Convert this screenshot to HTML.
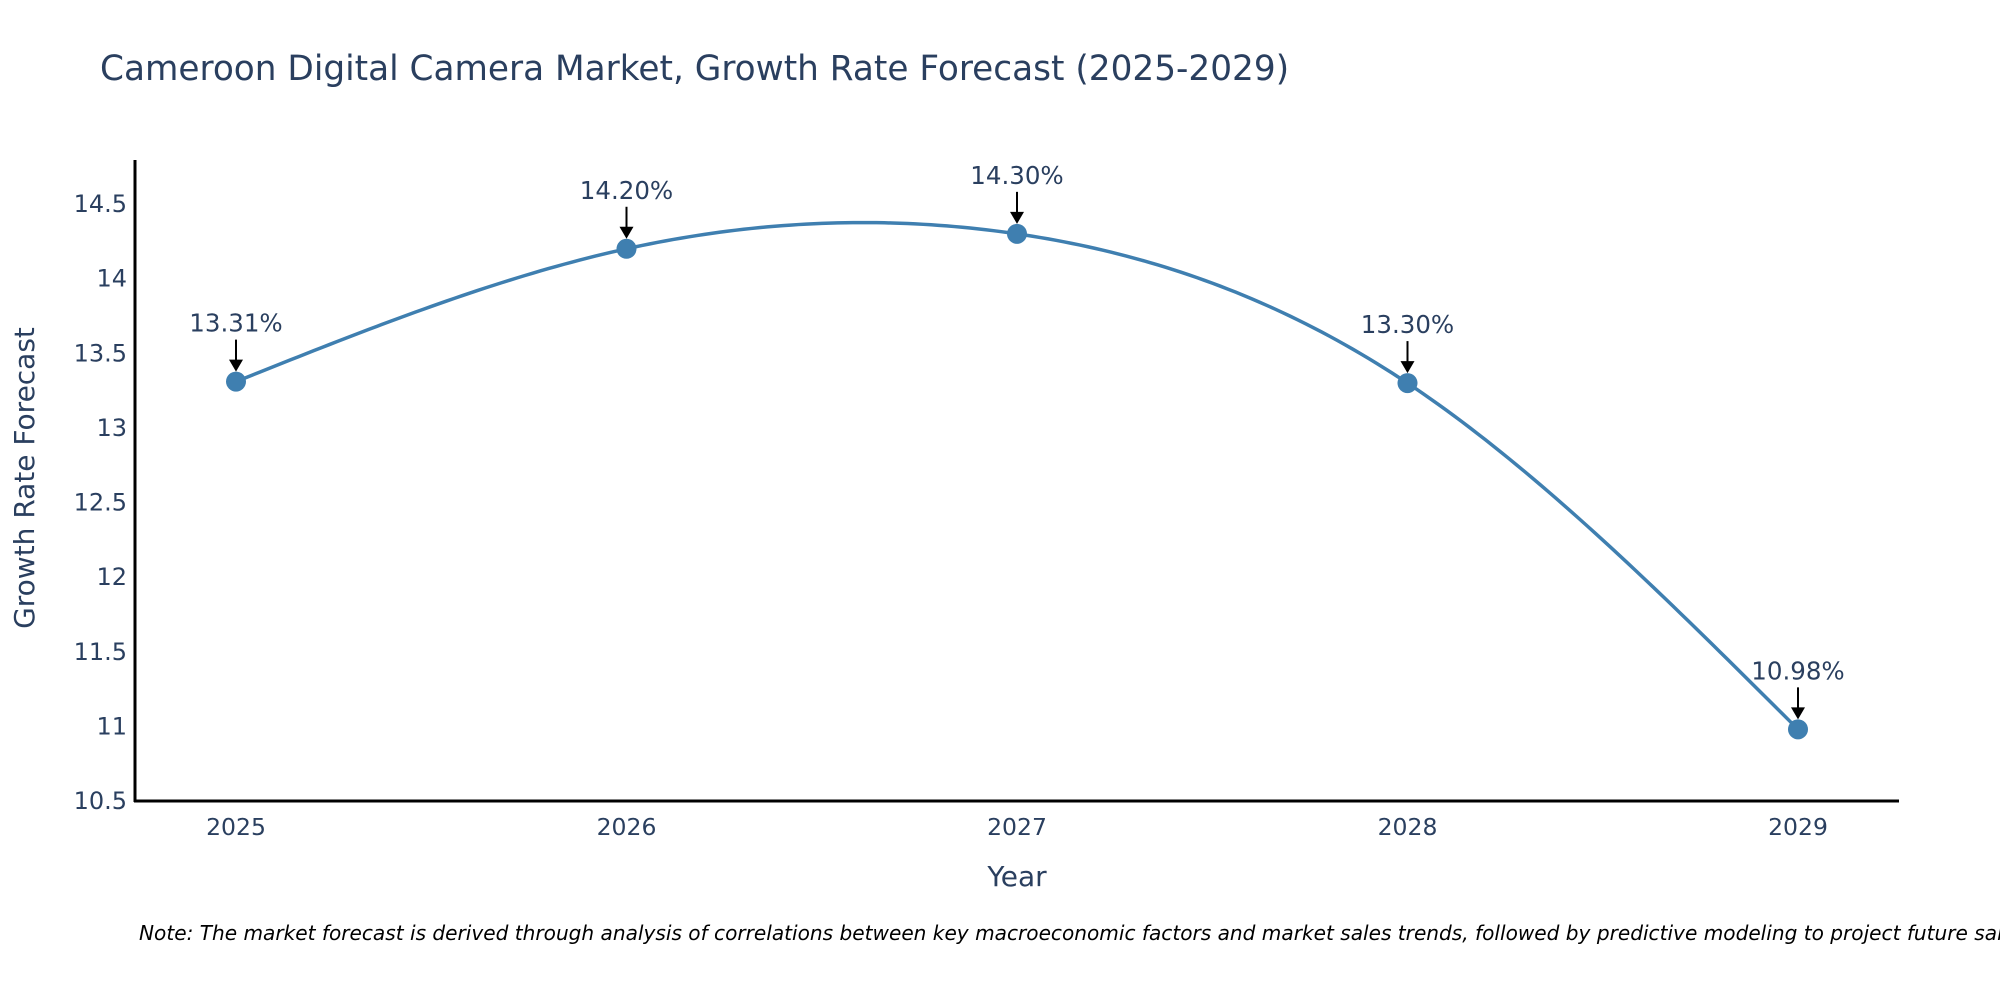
<!DOCTYPE html>
<html><head><meta charset="utf-8"><style>
html,body{margin:0;padding:0;background:#fff;}
svg{display:block;font-family:"DejaVu Sans","Liberation Sans",sans-serif;}
</style></head><body>
<svg id="chart" width="2000" height="1000" viewBox="0 0 2000 1000">
<text x="100" y="80" font-size="34.3" fill="#2a3f5f">Cameroon Digital Camera Market, Growth Rate Forecast (2025-2029)</text>
<g id="yticks"></g>
<g id="xticks"></g>
<line x1="135" y1="160" x2="135" y2="802" stroke="#000" stroke-width="3"/>
<line x1="134" y1="801" x2="1899" y2="801" stroke="#000" stroke-width="3"/>
<path id="line" fill="none" stroke="#3f7fb0" stroke-width="3.5"/>
<g id="marks"></g>
<text x="0" y="0" transform="translate(34,478) rotate(-90)" text-anchor="middle" font-size="28" fill="#2a3f5f">Growth Rate Forecast</text>
<text x="1017" y="886" text-anchor="middle" font-size="28" fill="#2a3f5f">Year</text>
<text x="139" y="940" font-size="20.1" font-style="italic" fill="#000">Note: The market forecast is derived through analysis of correlations between key macroeconomic factors and market sales trends, followed by predictive modeling to project future sales.</text>
</svg>
<script>
const years = [2025, 2026, 2027, 2028, 2029];
const values = [13.31, 14.20, 14.30, 13.30, 10.98];
const labels = ["13.31%", "14.20%", "14.30%", "13.30%", "10.98%"];
const yTicks = [10.5, 11, 11.5, 12, 12.5, 13, 13.5, 14, 14.5];
const yTickLabels = ["10.5", "11", "11.5", "12", "12.5", "13", "13.5", "14", "14.5"];

const NS = "http://www.w3.org/2000/svg";
const xs = v => 236 + (v - 2025) * 390.5;
const ys = v => 801 - (v - 10.5) * 149.25;
function mk(tag, attrs, parent, txt) {
  const e = document.createElementNS(NS, tag);
  for (const k in attrs) e.setAttribute(k, attrs[k]);
  if (txt !== undefined) e.textContent = txt;
  parent.appendChild(e);
  return e;
}
const yg = document.getElementById('yticks');
yTicks.forEach((t, i) => {
  const e = mk('text', {x: 127, y: ys(t) + 8, 'text-anchor': 'end', 'font-size': 24, fill: '#2a3f5f'}, yg, yTickLabels[i]);
  
  
});
const xg = document.getElementById('xticks');
years.forEach(y => {
  const e = mk('text', {x: xs(y), y: 835, 'text-anchor': 'middle', 'font-size': 23.5, fill: '#2a3f5f'}, xg, String(y));
  
  
});
// natural cubic spline in data space
function natSpline(x, y) {
  const n = x.length, h = [], a = [], l = [1], mu = [0], z = [0], c = new Array(n).fill(0), b = [], d = [];
  for (let i = 0; i < n - 1; i++) h.push(x[i + 1] - x[i]);
  for (let i = 1; i < n - 1; i++) a[i] = 3 / h[i] * (y[i + 1] - y[i]) - 3 / h[i - 1] * (y[i] - y[i - 1]);
  for (let i = 1; i < n - 1; i++) {
    l[i] = 2 * (x[i + 1] - x[i - 1]) - h[i - 1] * mu[i - 1];
    mu[i] = h[i] / l[i];
    z[i] = (a[i] - h[i - 1] * z[i - 1]) / l[i];
  }
  for (let j = n - 2; j >= 0; j--) {
    c[j] = (j === 0 ? 0 : z[j]) - (j === 0 ? 0 : mu[j]) * c[j + 1];
    b[j] = (y[j + 1] - y[j]) / h[j] - h[j] * (c[j + 1] + 2 * c[j]) / 3;
    d[j] = (c[j + 1] - c[j]) / (3 * h[j]);
  }
  return xv => {
    let i = Math.min(n - 2, Math.max(0, Math.floor(xv - x[0])));
    for (let k = 0; k < n - 1; k++) if (xv >= x[k] && xv <= x[k + 1]) { i = k; break; }
    const dx = xv - x[i];
    return y[i] + b[i] * dx + c[i] * dx * dx + d[i] * dx * dx * dx;
  };
}
const f = natSpline(years, values);
let d = '';
const steps = 200;
for (let s = 0; s <= steps; s++) {
  const xv = years[0] + (years[years.length - 1] - years[0]) * s / steps;
  d += (s ? 'L' : 'M') + xs(xv).toFixed(2) + ',' + ys(f(xv)).toFixed(2);
}
document.getElementById('line').setAttribute('d', d);
const mg = document.getElementById('marks');
years.forEach((y, i) => {
  const cx = xs(y), cy = ys(values[i]);
  const c = mk('circle', {cx: cx, cy: cy, r: 10, fill: '#3f7fb0'}, mg);
  
  
  const l = mk('line', {x1: cx, y1: cy - 42, x2: cx, y2: cy - 20, stroke: '#000', 'stroke-width': 2}, mg);
  
  
  const h = mk('polygon', {points: `${cx - 7},${cy - 22} ${cx + 7},${cy - 22} ${cx},${cy - 10}`, fill: '#000'}, mg);
  
  
  const tx = mk('text', {x: cx, y: cy - 50, 'text-anchor': 'middle', 'font-size': 24.5, fill: '#2a3f5f'}, mg, labels[i]);
  
  
});
</script>
</body></html>
